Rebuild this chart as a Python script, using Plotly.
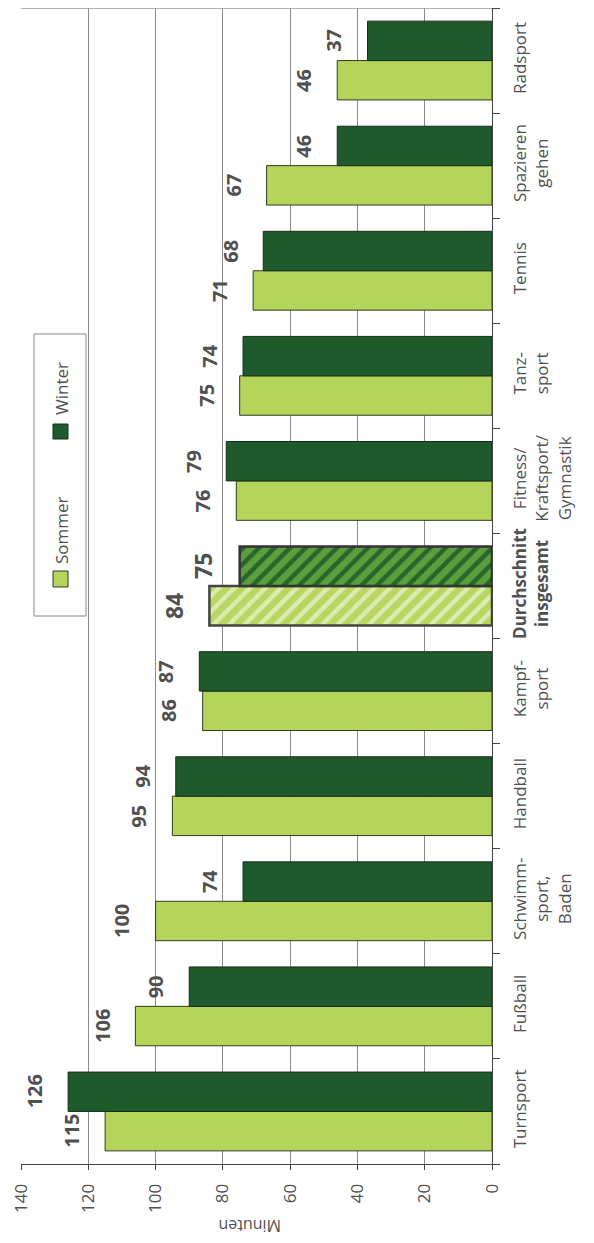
import plotly.graph_objects as go

# Durchschnittliche Dauer je Sporteinheit (Minuten)
categories = [
    "Turnsport",
    "Fußball",
    "Schwimm-<br>sport,<br>Baden",
    "Handball",
    "Kampf-<br>sport",
    "<b>Durchschnitt</b><br><b>insgesamt</b>",
    "Fitness/<br>Kraftsport/<br>Gymnastik",
    "Tanz-<br>sport",
    "Tennis",
    "Spazieren<br>gehen",
    "Radsport",
]
sommer = [115, 106, 100, 95, 86, 84, 76, 75, 71, 67, 46]
winter = [126, 90, 74, 94, 87, 75, 79, 74, 68, 46, 37]
avg_idx = 5

light = "#b4d45a"
dark = "#1f5a2c"
grey = "#505050"
font = "Open Sans"


def per_bar(base, avg):
    return [avg if i == avg_idx else base for i in range(len(categories))]


shapes = per_bar("", "/")

fig = go.Figure()
fig.add_trace(go.Bar(
    y=categories, x=sommer, orientation="h", name="Sommer",
    marker=dict(
        color=light,
        line=dict(color=per_bar("#2f3b22", "#444444"), width=per_bar(1, 2.5)),
        pattern=dict(shape=shapes, bgcolor=per_bar(light, "#b8d760"),
                     fgcolor=per_bar(light, "#dcebb0"), fgopacity=1,
                     size=11, solidity=0.4),
    ),
))
fig.add_trace(go.Bar(
    y=categories, x=winter, orientation="h", name="Winter",
    marker=dict(
        color=dark,
        line=dict(color=per_bar("#1a2e1a", "#333333"), width=per_bar(1, 2.5)),
        pattern=dict(shape=shapes, bgcolor=per_bar(dark, "#5c9d3c"),
                     fgcolor=per_bar(dark, "#27652d"), fgopacity=1,
                     size=11, solidity=0.4),
    ),
))

# Wertebeschriftungen links neben den Balkenenden
bar_shift = 19.7
for i, cat in enumerate(categories):
    size = 23 if i == avg_idx else 20
    for vals, ys in ((sommer, -bar_shift), (winter, bar_shift)):
        fig.add_annotation(
            x=vals[i], y=cat, text=str(vals[i]), textangle=-90,
            xanchor="right", yanchor="middle", xshift=-18, yshift=ys,
            showarrow=False,
            font=dict(family=font, size=size, color=grey, weight="bold"),
        )

fig.update_layout(
    width=586, height=1235,
    margin=dict(l=13, r=102, t=0, b=79),
    paper_bgcolor="white", plot_bgcolor="white",
    barmode="group", bargap=0.25, bargroupgap=0,
    showlegend=False,
    font=dict(family=font, color=grey, size=17),
    xaxis=dict(
        range=[140, 0], tickvals=[0, 20, 40, 60, 80, 100, 120, 140],
        tickangle=-90, showgrid=True, gridcolor="#8a8a8a", gridwidth=1,
        showline=True, linecolor="#444444", linewidth=1,
        ticks="outside", ticklen=5, tickcolor="#444444",
        ticklabelstandoff=7,
        tickfont=dict(family=font, size=17, color=grey), zeroline=False,
        automargin=False,
    ),
    yaxis=dict(
        side="right", tickangle=-90, showgrid=False,
        showline=True, linecolor="#444444", linewidth=1,
        ticks="outside", ticklen=7, tickcolor="#444444",
        tickson="boundaries", ticklabelstandoff=13,
        tickfont=dict(family=font, size=17, color=grey),
        automargin=False,
    ),
)

# obere Rahmenlinie
fig.add_shape(type="line", xref="paper", yref="paper", x0=0, x1=1, y0=1, y1=1,
              line=dict(color="#999999", width=1.5))


def px_x(p):
    return (p - 21) / 471


def px_y(p):
    return (1164 - p) / 1156


# Achsentitel (gedreht wie im Original)
fig.add_annotation(text="Minuten", xref="paper", yref="paper",
                   x=px_x(250), y=px_y(1226),
                   xanchor="center", yanchor="middle",
                   textangle=180, showarrow=False,
                   font=dict(family=font, size=16, color=grey))

# Legende als Kasten mit gedrehtem Text
fig.add_shape(type="rect", xref="paper", yref="paper",
              x0=px_x(34), x1=px_x(86), y0=px_y(616), y1=px_y(334),
              line=dict(color="#888888", width=1), fillcolor="white")
fig.add_shape(type="rect", xref="paper", yref="paper",
              x0=px_x(53), x1=px_x(68), y0=px_y(587), y1=px_y(571),
              line=dict(color="#2f3b22", width=1), fillcolor=light)
fig.add_shape(type="rect", xref="paper", yref="paper",
              x0=px_x(53), x1=px_x(68), y0=px_y(439), y1=px_y(424),
              line=dict(color="#1a2e1a", width=1), fillcolor=dark)
fig.add_annotation(text="Sommer", xref="paper", yref="paper",
                   x=px_x(61), y=px_y(530), xanchor="center", yanchor="middle",
                   textangle=-90, showarrow=False,
                   font=dict(family=font, size=17, color=grey))
fig.add_annotation(text="Winter", xref="paper", yref="paper",
                   x=px_x(61), y=px_y(389), xanchor="center", yanchor="middle",
                   textangle=-90, showarrow=False,
                   font=dict(family=font, size=17, color=grey))

fig.write_html("out.html")
